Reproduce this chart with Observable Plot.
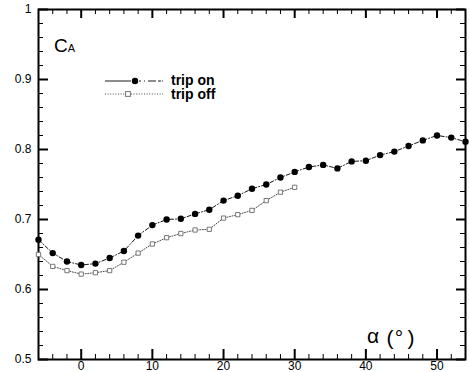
<!DOCTYPE html>
<html><head><meta charset="utf-8">
<script src="https://cdn.jsdelivr.net/npm/d3@7"></script>
<script src="https://cdn.jsdelivr.net/npm/@observablehq/plot@0.6"></script>
<style>
body{margin:0;background:#fff;}
#chart{position:relative;width:469px;height:372px;overflow:hidden;}
.lbl{position:absolute;margin:0;padding:0;line-height:1;white-space:nowrap;color:#000;font-family:'Liberation Sans',Arial,sans-serif;}
.leg{font-size:14px;font-weight:bold;left:171px;}
#ca{left:54px;top:36px;font-size:19px;font-family:'Liberation Sans Narrow','Liberation Sans',Arial,sans-serif;}
#ca span{font-size:11px;}
</style>
</head><body><div id="chart"></div>
<script>
// angle of attack (deg) and axial force coefficient C_A
const alphaOn = [-6,-4,-2,0,2,4,6,8,10,12,14,16,18,20,22,24,26,28,30,32,34,36,38,40,42,44,46,48,50,52,54];
const caOn    = [0.671,0.652,0.640,0.635,0.637,0.645,0.655,0.677,0.692,0.700,0.701,0.708,0.714,0.727,0.734,0.744,0.750,0.760,0.768,0.775,0.778,0.773,0.783,0.784,0.792,0.797,0.805,0.813,0.820,0.817,0.811];
const alphaOff = [-6,-4,-2,0,2,4,6,8,10,12,14,16,18,20,22,24,26,28,30];
const caOff    = [0.650,0.633,0.627,0.622,0.624,0.627,0.639,0.652,0.665,0.674,0.680,0.685,0.686,0.702,0.707,0.713,0.727,0.739,0.746];
const seriesNames = ["trip on","trip off"];
const xMajor = [0,10,20,30,40,50];
const xMinor = [-6,-4,-2,2,4,6,8,12,14,16,18,22,24,26,28,32,34,36,38,42,44,46,48,52];
const yMajor = [0.5,0.6,0.7,0.8,0.9,1];
const yMinor = [0.52,0.54,0.56,0.58,0.62,0.64,0.66,0.68,0.72,0.74,0.76,0.78,0.82,0.84,0.86,0.88,0.92,0.94,0.96,0.98];

const onData = alphaOn.map((a,i)=>({a, c: caOn[i]}));
const offData = alphaOff.map((a,i)=>({a, c: caOff[i]}));

const W = 469, H = 372, mT = 9, mR = 4, mB = 13, mL = 38;
const fw = W - mL - mR, fh = H - mT - mB;
const ff = "'Liberation Sans', Arial, sans-serif";

const chart = Plot.plot({
  width: W, height: H,
  marginTop: mT, marginRight: mR, marginBottom: mB, marginLeft: mL,
  style: {fontFamily: ff, fontSize: "12px", background: "white", color: "black", overflow: "visible"},
  x: {domain: [-6, 54], ticks: xMajor, tickSize: 0, tickPadding: 2, label: null},
  y: {domain: [0.5, 1], ticks: yMajor, tickSize: 0, tickPadding: 7, label: null,
      tickFormat: d => d === 1 ? "1" : d.toFixed(1)},
  marks: [
    Plot.tickX(xMinor, {x: d => d, insetTop: fh - 5, stroke: "black", strokeWidth: 1}),
    Plot.tickX(xMajor, {x: d => d, insetTop: fh - 10, stroke: "black", strokeWidth: 2}),
    Plot.tickX(xMinor, {x: d => d, insetBottom: fh - 5, stroke: "black", strokeWidth: 1}),
    Plot.tickX(xMajor, {x: d => d, insetBottom: fh - 9, stroke: "black", strokeWidth: 2}),
    Plot.tickY(yMinor, {y: d => d, insetRight: fw - 5, stroke: "black", strokeWidth: 1}),
    Plot.tickY(yMajor, {y: d => d, insetRight: fw - 10, stroke: "black", strokeWidth: 2}),
    Plot.tickY(yMinor, {y: d => d, insetLeft: fw - 5, stroke: "black", strokeWidth: 1}),
    Plot.tickY(yMajor, {y: d => d, insetLeft: fw - 9, stroke: "black", strokeWidth: 2}),
    Plot.frame({stroke: "black", strokeWidth: 2}),
    Plot.line(offData, {x: "a", y: "c", stroke: "#333", strokeWidth: 0.9, strokeDasharray: "1,1.6"}),
    Plot.dot(offData, {x: "a", y: "c", symbol: "square", r: 2.4, stroke: "#777", strokeWidth: 1, fill: "white"}),
    Plot.line(onData, {x: "a", y: "c", stroke: "black", strokeWidth: 0.9, strokeDasharray: "4,2,1,2"}),
    Plot.dot(onData, {x: "a", y: "c", r: 3.2, fill: "black", stroke: "none"})
  ]
});
const holder = document.getElementById("chart");
holder.appendChild(chart);

const svg = d3.select(chart);
// legend symbols
const lg = svg.append("g");
lg.append("line").attr("x1",105).attr("x2",131).attr("y1",81).attr("y2",81).attr("stroke","black").attr("stroke-width",0.9);
lg.append("line").attr("x1",139).attr("x2",163).attr("y1",81).attr("y2",81).attr("stroke","black").attr("stroke-width",0.9).attr("stroke-dasharray","2,3,1,3,8");
lg.append("circle").attr("cx",135).attr("cy",81).attr("r",3.2).attr("fill","black");
lg.append("line").attr("x1",105).attr("x2",163).attr("y1",94).attr("y2",94).attr("stroke","#333").attr("stroke-width",0.9).attr("stroke-dasharray","1,1.6");
lg.append("rect").attr("x",125.6).attr("y",91.6).attr("width",4.8).attr("height",4.8).attr("fill","white").attr("stroke","#777");

// alpha label
const al = svg.append("g").attr("font-family", ff).attr("font-size", 21).attr("fill","black");
al.append("text").attr("x",373).attr("y",343).text("α");
al.append("text").attr("x",390).attr("y",345).text("(");
al.append("text").attr("x",399).attr("y",345).text("°");
al.append("text").attr("x",411).attr("y",345).text(")");

// legend texts and C_A label as HTML overlays
d3.select(holder).selectAll("div.leg").data(seriesNames).join("div")
  .attr("class","lbl leg")
  .style("top", (d,i) => (i === 0 ? 73.3 : 86.8) + "px")
  .text(d => d);
const ca = d3.select(holder).append("div").attr("id","ca").attr("class","lbl");
ca.append("tspan").text("C");
ca.html("C<span>A</span>");
</script>
</body></html>
